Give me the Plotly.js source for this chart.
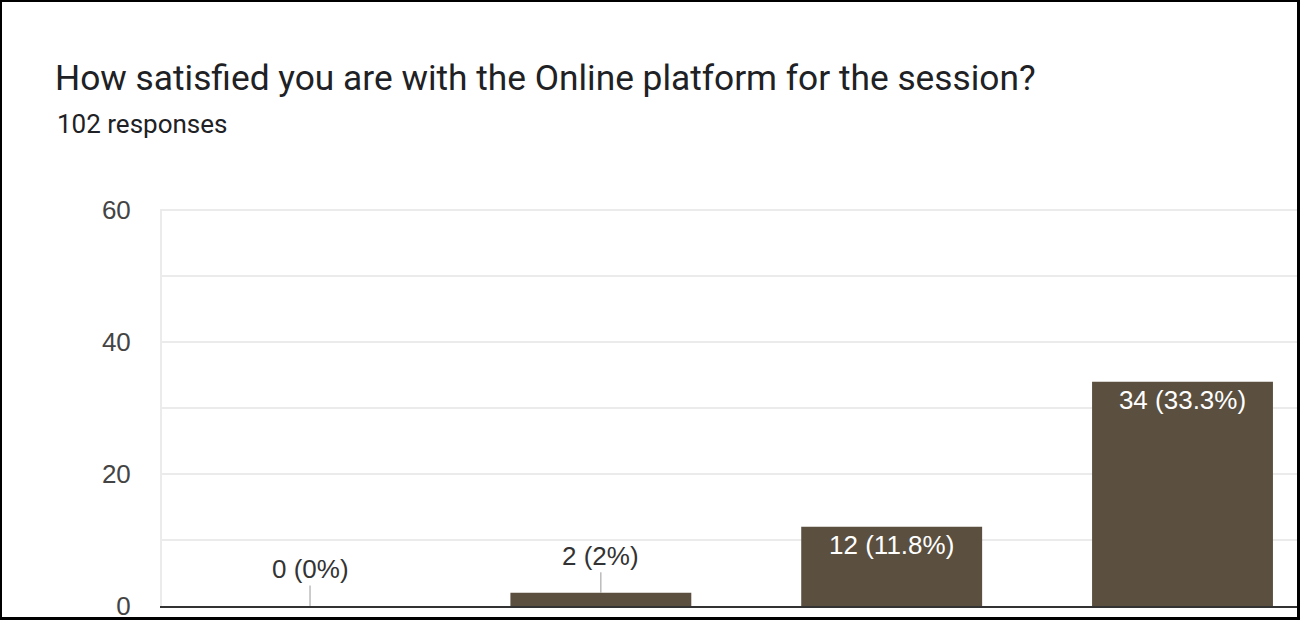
<!DOCTYPE html>
<html>
<head>
<meta charset="utf-8">
<script src="https://cdn.plot.ly/plotly-3.0.1.min.js"></script>
<style>
  html, body { margin: 0; padding: 0; background: #fff; }
  #wrap { position: relative; width: 1300px; height: 620px; overflow: hidden; }
  #chart { position: absolute; left: 0; top: 0; width: 1300px; height: 620px; }
  #frame { position: absolute; left: 0; top: 0; width: 1300px; height: 620px; box-sizing: border-box;
           border-left: 2px solid #000; border-top: 2px solid #000; border-right: 3px solid #000; border-bottom: 3px solid #000;
           pointer-events: none; }
</style>
</head>
<body>
<div id="wrap">
  <div id="chart"></div>
  <div id="frame"></div>
</div>
<script>
const titleText = "How satisfied you are with the Online platform for the session?";
const responsesText = "102 responses";
const totalResponses = 102;
const categories = [1, 2, 3, 4];
const counts = [0, 2, 12, 34];
const yTickVals = [0, 20, 40, 60];

function pctLabel(v) {
  const p = Math.round(v / totalResponses * 1000) / 10;
  return v + " (" + p + "%)";
}

const labels = counts.map(pctLabel);
const insideMin = 5; // bars tall enough to hold their label
const barText = counts.map((v, i) => v >= insideMin ? labels[i] : "");

const barColor = "#5b4f3f";
const labelFont = "Arial, 'Liberation Sans', sans-serif";
const titleFont = "Roboto, 'Noto Sans', sans-serif";

const trace = {
  type: "bar",
  x: categories,
  y: counts,
  width: 0.622,
  marker: { color: barColor, line: { width: 0 } },
  text: barText,
  textposition: "inside",
  insidetextanchor: "end",
  textangle: 0,
  insidetextfont: { family: labelFont, size: 26, color: "#ffffff" },
  hoverinfo: "none",
  cliponaxis: false
};

const plotTop = 209, plotBottom = 606;
const annotations = [];
counts.forEach((v, i) => {
  if (v < insideMin) {
    annotations.push({
      x: categories[i], y: v, xref: "x", yref: "y",
      text: labels[i],
      showarrow: true, arrowhead: 0, arrowwidth: 1, arrowcolor: "#999999",
      ax: 0, ay: -37, standoff: 0,
      font: { family: labelFont, size: 26, color: "#333333" }
    });
  }
});
annotations.push({
  xref: "paper", yref: "paper",
  x: (55 - 162) / 1138, y: (plotBottom - 123.5) / (plotBottom - plotTop),
  xanchor: "left", yanchor: "middle",
  text: responsesText, showarrow: false,
  font: { family: titleFont, size: 26, color: "#202124" }
});

const layout = {
  width: 1300, height: 620,
  margin: { l: 162, r: 0, t: plotTop, b: 620 - plotBottom, pad: 0 },
  paper_bgcolor: "#ffffff", plot_bgcolor: "#ffffff",
  showlegend: false,
  title: {
    text: titleText,
    xref: "container", yref: "container",
    x: 55 / 1300, xanchor: "left",
    y: 1 - 77.5 / 620, yanchor: "middle",
    font: { family: titleFont, size: 35.3, weight: 400, color: "#202124" }
  },
  xaxis: {
    type: "linear",
    range: [0.491, 4.404],
    showgrid: false, zeroline: false,
    showticklabels: false, ticks: "",
    showline: true, linecolor: "#333333", linewidth: 2,
    fixedrange: true
  },
  yaxis: {
    range: [0, 60.2],
    tickmode: "array", tickvals: yTickVals,
    showgrid: true, gridcolor: "#ebebeb", gridwidth: 2,
    minor: { dtick: 10, tick0: 0, showgrid: true, gridcolor: "#ebebeb", gridwidth: 2, ticks: "" },
    zeroline: false,
    showline: true, linecolor: "#ebebeb", linewidth: 2,
    ticks: "", ticklabelstandoff: 24, ticklabeloverflow: "allow",
    tickfont: { family: labelFont, size: 26, color: "#444444" },
    fixedrange: true
  },
  annotations: annotations
};

Plotly.newPlot("chart", [trace], layout, { staticPlot: true, displayModeBar: false });
</script>
</body>
</html>
